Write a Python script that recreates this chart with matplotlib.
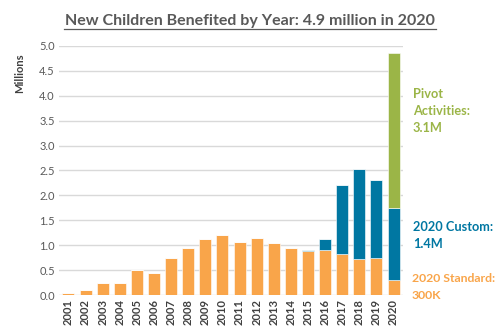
import numpy as np
import matplotlib.pyplot as plt

plt.rcParams['font.family'] = ['Lato', 'DejaVu Sans']

years = [str(y) for y in range(2001, 2021)]
standard = [0.04, 0.11, 0.25, 0.25, 0.51, 0.44, 0.74, 0.94, 1.12, 1.21,
            1.06, 1.15, 1.04, 0.94, 0.88, 0.90, 0.83, 0.73, 0.74, 0.30]
custom = [0, 0, 0, 0, 0, 0, 0, 0, 0, 0,
          0, 0, 0, 0, 0.02, 0.22, 1.38, 1.79, 1.56, 1.45]
pivot = [0] * 19 + [3.10]

c_orange = '#F9A54A'
c_blue = '#0077A2'
c_green = '#9BB547'
c_text = '#595959'

fig = plt.figure(figsize=(5, 3.33), dpi=100)
ax = fig.add_axes([0.118, 0.114, 0.688, 0.748])

x = np.arange(len(years))
std = np.array(standard)
cus = np.array(custom)
ax.bar(x, std, width=0.7, color=c_orange, edgecolor='white', linewidth=0.4, zorder=3)
ax.bar(x, cus, bottom=std, width=0.7, color=c_blue, edgecolor='white', linewidth=0.4, zorder=3)
ax.bar(x, pivot, bottom=std + cus, width=0.7, color=c_green, edgecolor='white', linewidth=0.4, zorder=3)

ax.set_xlim(-0.55, len(years) - 0.45)
ax.set_ylim(0, 5.0)
ax.set_yticks(np.arange(0, 5.01, 0.5))
ax.set_yticklabels([f'{v:.1f}' for v in np.arange(0, 5.01, 0.5)], fontsize=8, color=c_text)
ax.set_xticks(x)
ax.set_xticklabels(years, rotation=90, fontsize=8, color='#404040', fontweight='bold')
ax.tick_params(length=0, pad=3)
ax.grid(axis='y', color='#D9D9D9', linewidth=1, zorder=0)
for s in ax.spines.values():
    s.set_visible(False)

fig.text(0.04, 0.78, 'Millions', rotation=90, fontsize=8, fontweight='bold',
         color='#404040', ha='center', va='center')

fig.text(0.5, 0.937, 'New Children Benefited by Year: 4.9 million in 2020', fontsize=11.5,
         fontweight='bold', color=c_text, ha='center', va='center')
fig.add_artist(plt.Line2D([0.128, 0.872], [0.912, 0.912], color=c_text, linewidth=0.9))

fig.text(0.826, 0.667, 'Pivot\nActivities:\n3.1M', fontsize=9.2, fontweight='bold',
         color=c_green, ha='left', va='center', linespacing=1.5)
fig.text(0.826, 0.293, '2020 Custom:\n1.4M', fontsize=9.2, fontweight='bold',
         color=c_blue, ha='left', va='center', linespacing=1.5)
fig.text(0.824, 0.138, '2020 Standard:\n300K', fontsize=8.8, fontweight='bold',
         color=c_orange, ha='left', va='center', linespacing=1.6)

fig.savefig('out.png', dpi=100)
